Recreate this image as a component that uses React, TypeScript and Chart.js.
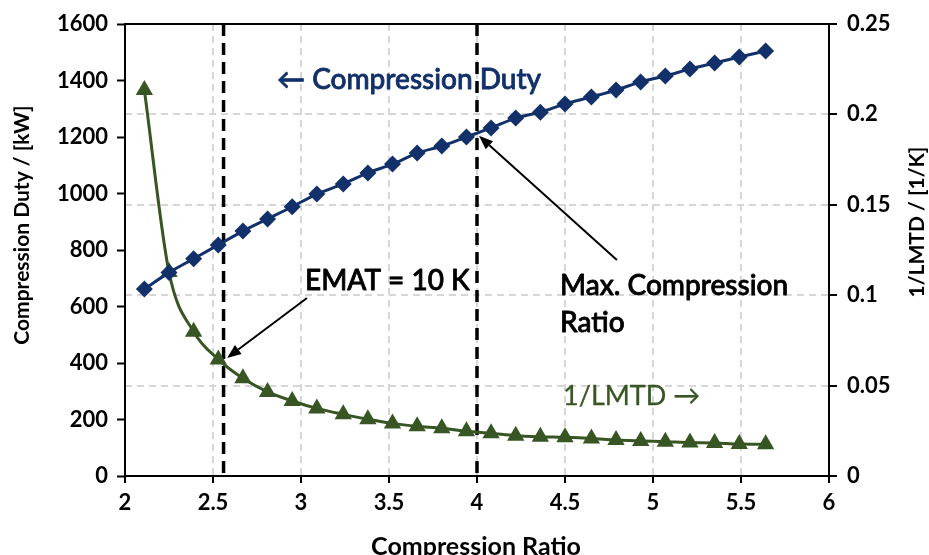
import React, { useEffect, useRef } from 'react';
import { Chart, registerables } from 'chart.js';

Chart.register(...registerables);

// ---- data ----
const compressionRatio = [2.11, 2.25, 2.39, 2.53, 2.67, 2.81, 2.95, 3.09, 3.24, 3.38, 3.52, 3.66, 3.8, 3.94, 4.08, 4.22, 4.36, 4.5, 4.65, 4.79, 4.93, 5.07, 5.21, 5.35, 5.49, 5.64];
const compressionDuty = [662, 720, 769, 818, 867, 910, 953, 998, 1034, 1073, 1104, 1143, 1168, 1200, 1232, 1267, 1288, 1317, 1342, 1366, 1395, 1416, 1441, 1462, 1483, 1504];
const inverseLmtd = [0.2135, 0.1128, 0.0798, 0.0645, 0.054, 0.0465, 0.0415, 0.0374, 0.0341, 0.0314, 0.0291, 0.0275, 0.0264, 0.0247, 0.0236, 0.0223, 0.0217, 0.0214, 0.0208, 0.0199, 0.0194, 0.019, 0.0185, 0.0183, 0.0177, 0.0176];

const xTicks = [2, 2.5, 3, 3.5, 4, 4.5, 5, 5.5, 6];
const dutyTicks = [0, 200, 400, 600, 800, 1000, 1200, 1400, 1600];
const lmtdTicks = [0, 0.05, 0.1, 0.15, 0.2, 0.25];

const markerLines = [2.56, 4.0]; // EMAT = 10 K, max. compression ratio

// annotation anchors in data units [x, duty]
const ematArrow = [[3.034, 630], [2.58, 418]];
const maxArrow = [[4.795, 765], [4.011, 1204]];
const dutyLabelPos = [2.864, 1370];
const ematLabelPos = [3.023, 658];
const maxLabelPos = [4.472, 641];
const maxLabelPos2 = [4.472, 510];
const lmtdLabelPos = [4.489, 251];

const NAVY = '#12306a';
const GREEN = '#375623';
const FONT = 'Lato';

function drawArrow(ctx: CanvasRenderingContext2D, x1: number, y1: number, x2: number, y2: number) {
  const ang = Math.atan2(y2 - y1, x2 - x1);
  const len = 14, hw = 5.5;
  const bx = x2 - Math.cos(ang) * len, by = y2 - Math.sin(ang) * len;
  ctx.beginPath();
  ctx.moveTo(x1, y1);
  ctx.lineTo(bx, by);
  ctx.stroke();
  ctx.beginPath();
  ctx.moveTo(x2, y2);
  ctx.lineTo(bx + Math.sin(ang) * hw, by - Math.cos(ang) * hw);
  ctx.lineTo(bx - Math.sin(ang) * hw, by + Math.cos(ang) * hw);
  ctx.closePath();
  ctx.fill();
}

function heavyText(ctx: CanvasRenderingContext2D, text: string, x: number, y: number, color: string, stroke: number) {
  ctx.fillStyle = color;
  ctx.strokeStyle = color;
  ctx.lineWidth = stroke;
  ctx.lineJoin = 'round';
  ctx.fillText(text, x, y);
  if (stroke > 0) ctx.strokeText(text, x, y);
}

const overlay = {
  id: 'overlay',
  beforeDatasetsDraw(chart: any) {
    const { ctx, chartArea: a, scales } = chart;
    const x = scales.x;
    ctx.save();
    ctx.strokeStyle = '#000';
    ctx.lineWidth = 2;
    ctx.beginPath();
    ctx.moveTo(a.left, a.top);
    ctx.lineTo(a.right + 1, a.top);
    ctx.stroke();
    ctx.setLineDash([12, 7]);
    ctx.lineWidth = 3.5;
    for (const v of markerLines) {
      const px = x.getPixelForValue(v);
      ctx.beginPath();
      ctx.moveTo(px, a.top);
      ctx.lineTo(px, a.bottom);
      ctx.stroke();
    }
    ctx.restore();
  },
  afterDatasetsDraw(chart: any) {
    const { ctx, scales } = chart;
    const x = scales.x, y = scales.y;
    const px = (p: number[]) => [x.getPixelForValue(p[0]), y.getPixelForValue(p[1])];
    ctx.save();
    ctx.strokeStyle = '#000';
    ctx.fillStyle = '#000';
    ctx.lineWidth = 2;
    let [a1, b1] = px(ematArrow[0]);
    let [a2, b2] = px(ematArrow[1]);
    drawArrow(ctx, a1, b1, a2, b2);
    [a1, b1] = px(maxArrow[0]);
    [a2, b2] = px(maxArrow[1]);
    drawArrow(ctx, a1, b1, a2, b2);

    ctx.textAlign = 'left';
    ctx.textBaseline = 'alphabetic';
    ctx.font = `500 28px ${FONT}`;
    let p = px(dutyLabelPos);
    heavyText(ctx, '← Compression Duty', p[0], p[1], NAVY, 0.8);
    p = px(ematLabelPos);
    heavyText(ctx, 'EMAT = 10 K', p[0], p[1], '#000', 0.8);
    p = px(maxLabelPos);
    heavyText(ctx, 'Max. Compression', p[0], p[1], '#000', 0.8);
    p = px(maxLabelPos2);
    heavyText(ctx, 'Ratio', p[0], p[1], '#000', 0.8);
    ctx.font = `400 27px ${FONT}`;
    p = px(lmtdLabelPos);
    heavyText(ctx, '1/LMTD →', p[0], p[1], GREEN, 0.3);

    // axis titles
    ctx.fillStyle = '#000';
    ctx.textAlign = 'center';
    ctx.textBaseline = 'middle';
    ctx.font = `bold 25px ${FONT}`;
    ctx.fillText('Compression Ratio', 476, 547);
    ctx.font = `bold 21px ${FONT}`;
    ctx.save();
    ctx.translate(22, 225);
    ctx.rotate(-Math.PI / 2);
    ctx.fillText('Compression Duty / [kW]', 0, 0);
    ctx.restore();
    ctx.save();
    ctx.translate(917, 222);
    ctx.rotate(-Math.PI / 2);
    ctx.fillText('1/LMTD / [1/K]', 0, 0);
    ctx.restore();
    ctx.restore();
  },
};

const tickFont = { family: FONT, size: 22, weight: 'bold' as const };
const gridDash = '#d6d6d6';

export default function App() {
  const ref = useRef<HTMLCanvasElement>(null);
  useEffect(() => {
    document.body.style.margin = '0';
    const chart = new Chart(ref.current!, {
      type: 'line',
      data: {
        datasets: [
          {
            label: 'Compression Duty',
            data: compressionRatio.map((r, i) => ({ x: r, y: compressionDuty[i] })),
            yAxisID: 'y',
            borderColor: NAVY,
            backgroundColor: NAVY,
            borderWidth: 3,
            pointStyle: 'rectRot',
            pointRadius: 8.5,
            pointBorderWidth: 0,
            cubicInterpolationMode: 'monotone',
          },
          {
            label: '1/LMTD',
            data: compressionRatio.map((r, i) => ({ x: r, y: inverseLmtd[i] })),
            yAxisID: 'y2',
            borderColor: GREEN,
            backgroundColor: GREEN,
            borderWidth: 3,
            pointStyle: 'triangle',
            pointRadius: 10,
            pointBorderWidth: 0,
            cubicInterpolationMode: 'monotone',
          },
        ],
      },
      options: {
        responsive: false,
        animation: false,
        layout: { padding: { top: 24 } },
        plugins: { legend: { display: false }, tooltip: { enabled: false } },
        scales: {
          x: {
            type: 'linear',
            min: 2,
            max: 6,
            afterBuildTicks: (s: any) => { s.ticks = xTicks.map((v) => ({ value: v })); },
            afterFit: (s: any) => { s.height = 79; },
            ticks: { font: tickFont, color: '#000', padding: 7, callback: (v: any) => String(v), maxRotation: 0 },
            grid: {
              color: (c: any) => (c.tick && (c.tick.value === 2 || c.tick.value === 6) ? 'rgba(0,0,0,0)' : gridDash),
              lineWidth: 2,
              tickColor: '#000',
              tickLength: 7,
              tickWidth: 2,
            },
            border: { display: true, color: '#000', width: 2, dash: [7, 5] },
          },
          y: {
            type: 'linear',
            position: 'left',
            min: 0,
            max: 1600,
            afterBuildTicks: (s: any) => { s.ticks = dutyTicks.map((v) => ({ value: v })); },
            afterFit: (s: any) => { s.width = 125; },
            ticks: { font: tickFont, color: '#000', padding: 9, callback: (v: any) => String(v) },
            grid: { drawOnChartArea: false, tickColor: '#000', tickLength: 8, tickWidth: 2 },
            border: { display: true, color: '#000', width: 2 },
          },
          y2: {
            type: 'linear',
            position: 'right',
            min: 0,
            max: 0.25,
            afterBuildTicks: (s: any) => { s.ticks = lmtdTicks.map((v) => ({ value: v })); },
            afterFit: (s: any) => { s.width = 100; },
            ticks: { font: tickFont, color: '#000', padding: 10, callback: (v: any) => String(v) },
            grid: {
              drawOnChartArea: true,
              color: (c: any) => (c.tick && (c.tick.value === 0 || c.tick.value === 0.25) ? 'rgba(0,0,0,0)' : gridDash),
              lineWidth: 2,
              tickColor: '#000',
              tickLength: 8,
              tickWidth: 2,
            },
            border: { display: true, color: '#000', width: 2, dash: [7, 5] },
          },
        },
      },
      plugins: [overlay],
    } as any);
    return () => chart.destroy();
  }, []);
  return (
    <div style={{ width: 929, height: 555 }}>
      <canvas ref={ref} width={929} height={555} />
    </div>
  );
}
